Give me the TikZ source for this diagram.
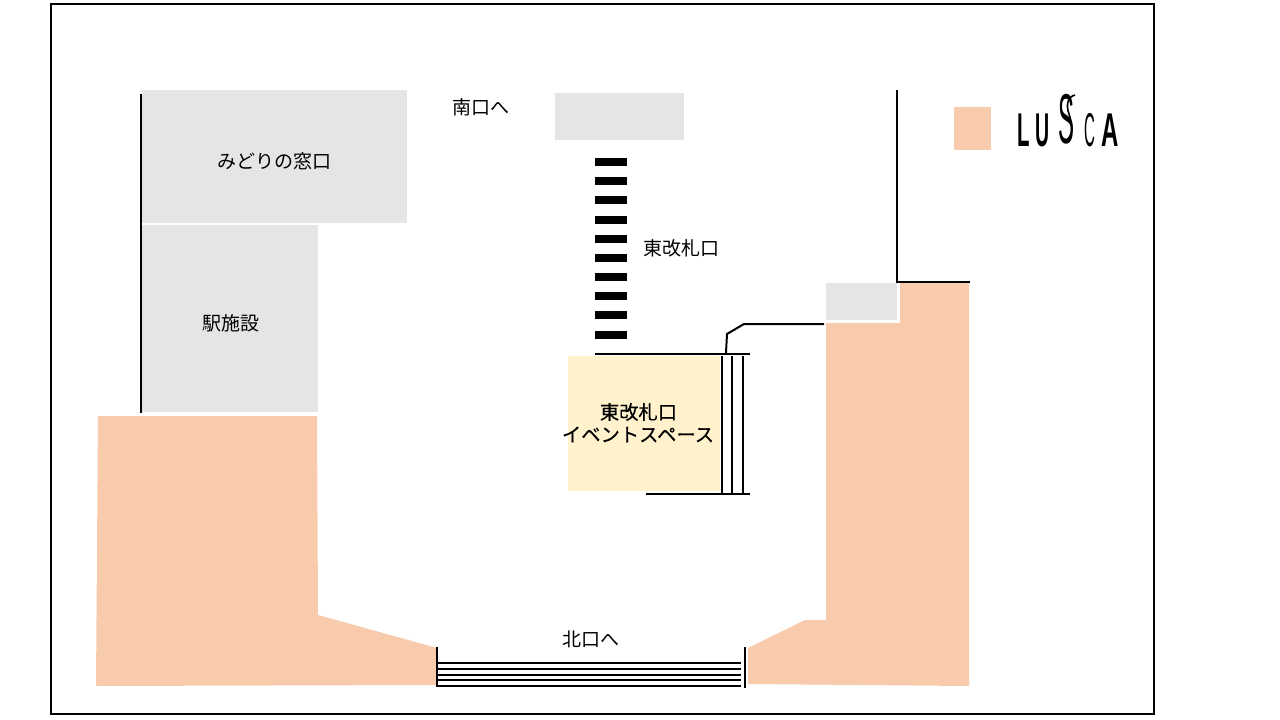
\documentclass[tikz,border=0pt]{standalone}
\usepackage{fontspec}
\setmainfont{Noto Sans CJK JP}
\newfontfamily\eventfont[FakeBold=0.25]{Noto Sans CJK JP}
\newfontfamily\logofont{Liberation Sans}
\definecolor{peach}{HTML}{F7CBAC}
\definecolor{cream}{HTML}{FFF2CC}
\definecolor{lgrey}{HTML}{E6E4E5}
\tikzset{
  wall/.style={draw=black,line width=2pt},
  shop/.style={fill=peach,draw=none},
  facility/.style={fill=lgrey,draw=none},
  gatebar/.style={fill=black,draw=none},
  lbl/.style={font=\fontsize{19}{23}\selectfont,inner sep=0pt,align=center,text=black},
  evlbl/.style={font=\eventfont\fontsize{19.3}{23}\selectfont,inner sep=0pt,align=center,text=black},
  logo/.style={inner sep=0pt,text=black,font=\logofont\fontsize{30}{30}\selectfont,anchor=base west}
}
\begin{document}
\begin{tikzpicture}[x=1pt,y=-1pt]
\useasboundingbox (0,0) rectangle (1280,720);
\fill[white] (0,0) rectangle (1280,720);
\draw[wall] (51,4) rectangle (1154,714);
% grey blocks
\fill[facility] (142,90) rectangle (407,223);
\fill[facility] (142,225) rectangle (318,412);
\fill[facility] (555,93) rectangle (684,140);
\fill[facility] (826,283) rectangle (897,320);
% peach shops
\fill[shop] (98,416) -- (317,416) -- (318,615) -- (437,648) -- (437,685) -- (96,686) -- cycle;
\fill[shop] (826,323) -- (900,323) -- (900,283) -- (969,283) -- (969,686) -- (748,684) -- (748,648) -- (805,620) -- (826,620) -- cycle;
\fill[shop] (954,107) rectangle (991,150);
% cream space
\fill[cream] (568,356) rectangle (720,491);
% walls
\draw[wall] (141,94) -- (141,413);
\draw[wall] (897,90) -- (897,282) -- (970,282);
\draw[wall] (595,354) -- (750,354);
\draw[wall] (646,494) -- (750,494);
\foreach \x in {721.5,732,742.5} \draw[wall] (\x,356) -- (\x,494);
\draw[wall] (726,353) -- (727,334) -- (744,324) -- (824,324);
% gate bars
\foreach \y in {162,181,200,220,239,258,277,296,315,335}
  \fill[gatebar] (595,\y-4) rectangle (627,\y+4);
% north stairs
\foreach \y in {663,669,674.5,680,686} \draw[wall] (437,\y) -- (741,\y);
\draw[wall] (437,647) -- (437,687);
\draw[wall] (745,647) -- (745,688);
% labels
\node[lbl] (midori) at (274.5,161) {みどりの窓口};
\node[lbl] (south) at (481,107) {南口へ};
\node[lbl] (east) at (681,248) {東改札口};
\node[lbl] (station) at (231,323) {駅施設};
\node[evlbl] (event1) at (638.5,412) {東改札口};
\node[evlbl] (event2) at (638,434.5) {イベントスペース};
\node[lbl] (north) at (591,639) {北口へ};
% logo
\node[logo] (logoL) at (1017,146) {\bfseries\scalebox{0.68}[1.58]{L}};
\node[logo] (logoU) at (1035.5,146) {\bfseries\scalebox{0.65}[1.58]{U}};
\node[logo] (logoS) at (1058.5,143) {\scalebox{0.8}[2.35]{S}};
\draw[black,line width=1.6pt] (1075,95) .. controls (1067,97) and (1066,106) .. (1069,114) .. controls (1072,123) and (1075,136) .. (1064,142);
\node[logo] (logoC) at (1084,146) {\scalebox{0.5}[1.58]{C}};
\node[logo] (logoA) at (1101.5,146) {\bfseries\scalebox{0.8}[1.58]{A}};
\end{tikzpicture}
\end{document}
